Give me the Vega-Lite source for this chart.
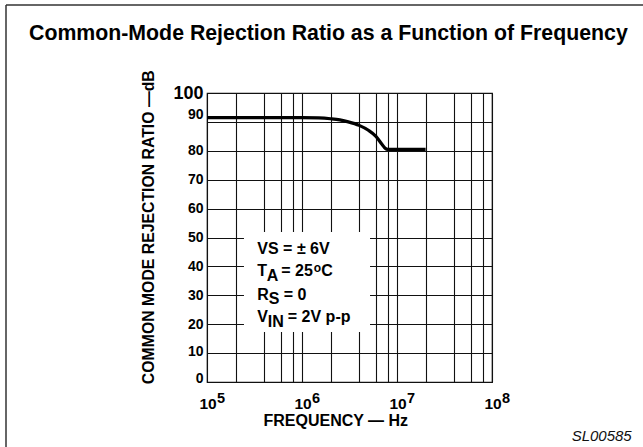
{
  "$schema": "https://vega.github.io/schema/vega-lite/v6.json",
  "width": 285,
  "height": 289,
  "autosize": {"type": "none"},
  "padding": {"left": 207, "top": 93, "right": 151, "bottom": 65},
  "background": "white",
  "config": {
    "view": {"stroke": "#111", "strokeWidth": 1.2},
    "font": "Liberation Sans",
    "axis": {"labelFont": "Liberation Sans", "titleFont": "Liberation Sans"}
  },
  "title": {
    "text": "Common-Mode Rejection Ratio as a Function of Frequency",
    "anchor": "start",
    "frame": "group",
    "dx": -178,
    "offset": -57,
    "baseline": "alphabetic",
    "font": "Liberation Sans",
    "fontSize": 21.3,
    "fontWeight": "bold",
    "color": "#000"
  },
  "datasets": {
    "curve": [
      {"f": 100000, "db": 91.5},
      {"f": 500000, "db": 91.5},
      {"f": 1000000, "db": 91.5},
      {"f": 1500000, "db": 91.4},
      {"f": 2000000, "db": 91.1},
      {"f": 2500000, "db": 90.7},
      {"f": 3000000, "db": 90.1},
      {"f": 4000000, "db": 88.8},
      {"f": 5000000, "db": 87.1},
      {"f": 6000000, "db": 85.0},
      {"f": 7000000, "db": 82.1},
      {"f": 7500000, "db": 80.9},
      {"f": 8000000, "db": 80.5},
      {"f": 10000000, "db": 80.5},
      {"f": 20000000, "db": 80.5}
    ],
    "xticks": [
      {"f": 100000, "base": "10", "exp": "5"},
      {"f": 1000000, "base": "10", "exp": "6"},
      {"f": 10000000, "base": "10", "exp": "7"},
      {"f": 100000000, "base": "10", "exp": "8"}
    ]
  },
  "layer": [
    {
      "data": {"name": "curve"},
      "mark": {"type": "line", "stroke": "#000", "strokeWidth": 3.2, "interpolate": "monotone"},
      "encoding": {
        "x": {
          "field": "f",
          "type": "quantitative",
          "scale": {"type": "log", "domain": [100000, 100000000]},
          "axis": {
            "values": [100000, 200000, 400000, 600000, 800000, 1000000, 2000000, 4000000, 6000000, 8000000, 10000000, 20000000, 40000000, 60000000, 80000000, 100000000],
            "tickCount": 20,
            "grid": true,
            "gridColor": "#111",
            "gridWidth": 1.1,
            "gridOpacity": 1,
            "labels": false,
            "ticks": false,
            "domain": false,
            "title": "FREQUENCY — Hz",
            "titleFontSize": 16,
            "titleFontWeight": "bold",
            "titleColor": "#000",
            "titleX": 128.3,
            "titleY": 43.5,
            "titleAlign": "center",
            "titleBaseline": "alphabetic"
          }
        },
        "y": {
          "field": "db",
          "type": "quantitative",
          "scale": {"domain": [0, 100]},
          "axis": {
            "values": [0, 10, 20, 30, 40, 50, 60, 70, 80, 90, 100],
            "tickCount": 12,
            "grid": true,
            "gridColor": "#111",
            "gridWidth": 1.1,
            "gridOpacity": 1,
            "ticks": false,
            "domain": false,
            "labelOverlap": false,
            "labelPadding": 4,
            "labelColor": "#000",
            "labelFontWeight": "bold",
            "labelFontSize": {"condition": {"test": "datum.value == 100", "value": 18}, "value": 14},
            "labelOffset": {"condition": [{"test": "datum.value == 90", "value": -7}, {"test": "datum.value == 0", "value": -4}, {"test": "datum.value == 10", "value": -2}], "value": 0},
            "title": "COMMON MODE REJECTION RATIO —dB",
            "titleFontSize": 15.8,
            "titleFontWeight": "bold",
            "titleColor": "#000",
            "titleX": -59,
            "titleY": 133.7,
            "titleAlign": "center",
            "titleBaseline": "middle"
          }
        }
      }
    },
    {
      "data": {"values": [{}]},
      "mark": {"type": "rule", "stroke": "#333", "strokeWidth": 1.5},
      "encoding": {
        "x": {"datum": 766, "type": "quantitative"},
        "y": {"datum": 130.45, "type": "quantitative"},
        "y2": {"datum": -30}
      }
    },
    {
      "data": {"values": [{}]},
      "mark": {"type": "rule", "stroke": "#333", "strokeWidth": 1.5},
      "encoding": {
        "x": {"datum": 766, "type": "quantitative"},
        "x2": {"datum": 10000000000},
        "y": {"datum": 130.45, "type": "quantitative"}
      }
    },
    {
      "data": {"values": [{}]},
      "mark": {"type": "rect", "fill": "white", "stroke": null},
      "encoding": {
        "x": {"datum": 245000, "type": "quantitative"},
        "x2": {"datum": 5200000},
        "y": {"datum": 51.9, "type": "quantitative"},
        "y2": {"datum": 17.3}
      }
    },
    {
      "data": {"name": "xticks"},
      "mark": {"type": "text", "align": "center", "baseline": "alphabetic", "dx": 1, "dy": 27, "fontSize": 15.5, "fontWeight": "bold", "color": "#000"},
      "encoding": {
        "x": {"field": "f", "type": "quantitative"},
        "y": {"datum": 0, "type": "quantitative"},
        "text": {"field": "base"}
      }
    },
    {
      "data": {"name": "xticks"},
      "mark": {"type": "text", "align": "left", "baseline": "alphabetic", "dx": 10, "dy": 21, "fontSize": 14.5, "fontWeight": "bold", "color": "#000"},
      "encoding": {
        "x": {"field": "f", "type": "quantitative"},
        "y": {"datum": 0, "type": "quantitative"},
        "text": {"field": "exp"}
      }
    },
    {
      "data": {"values": [{"t": "VS = ± 6V"}]},
      "mark": {"type": "text", "align": "left", "baseline": "alphabetic", "fontSize": 16, "fontWeight": "bold", "color": "#000"},
      "encoding": {"x": {"datum": 338500, "type": "quantitative"}, "y": {"datum": 44.3, "type": "quantitative"}, "text": {"field": "t"}}
    },
    {
      "data": {"values": [{"t": "T"}]},
      "mark": {"type": "text", "align": "left", "baseline": "alphabetic", "fontSize": 16, "fontWeight": "bold", "color": "#000"},
      "encoding": {"x": {"datum": 338500, "type": "quantitative"}, "y": {"datum": 36.57, "type": "quantitative"}, "text": {"field": "t"}}
    },
    {
      "data": {"values": [{"t": "A"}]},
      "mark": {"type": "text", "align": "left", "baseline": "alphabetic", "dx": 9.5, "dy": 5, "fontSize": 16, "fontWeight": "bold", "color": "#000"},
      "encoding": {"x": {"datum": 338500, "type": "quantitative"}, "y": {"datum": 36.57, "type": "quantitative"}, "text": {"field": "t"}}
    },
    {
      "data": {"values": [{"t": "= 25"}]},
      "mark": {"type": "text", "align": "left", "baseline": "alphabetic", "dx": 24, "fontSize": 16, "fontWeight": "bold", "color": "#000"},
      "encoding": {"x": {"datum": 338500, "type": "quantitative"}, "y": {"datum": 36.57, "type": "quantitative"}, "text": {"field": "t"}}
    },
    {
      "data": {"values": [{"t": "o"}]},
      "mark": {"type": "text", "align": "left", "baseline": "alphabetic", "dx": 56.5, "dy": -4.5, "fontSize": 12, "fontWeight": "bold", "color": "#000"},
      "encoding": {"x": {"datum": 338500, "type": "quantitative"}, "y": {"datum": 36.57, "type": "quantitative"}, "text": {"field": "t"}}
    },
    {
      "data": {"values": [{"t": "C"}]},
      "mark": {"type": "text", "align": "left", "baseline": "alphabetic", "dx": 64, "fontSize": 16, "fontWeight": "bold", "color": "#000"},
      "encoding": {"x": {"datum": 338500, "type": "quantitative"}, "y": {"datum": 36.57, "type": "quantitative"}, "text": {"field": "t"}}
    },
    {
      "data": {"values": [{"t": "R"}]},
      "mark": {"type": "text", "align": "left", "baseline": "alphabetic", "fontSize": 16, "fontWeight": "bold", "color": "#000"},
      "encoding": {"x": {"datum": 338500, "type": "quantitative"}, "y": {"datum": 28.48, "type": "quantitative"}, "text": {"field": "t"}}
    },
    {
      "data": {"values": [{"t": "S"}]},
      "mark": {"type": "text", "align": "left", "baseline": "alphabetic", "dx": 11.5, "dy": 4, "fontSize": 16, "fontWeight": "bold", "color": "#000"},
      "encoding": {"x": {"datum": 338500, "type": "quantitative"}, "y": {"datum": 28.48, "type": "quantitative"}, "text": {"field": "t"}}
    },
    {
      "data": {"values": [{"t": "= 0"}]},
      "mark": {"type": "text", "align": "left", "baseline": "alphabetic", "dx": 26.5, "fontSize": 16, "fontWeight": "bold", "color": "#000"},
      "encoding": {"x": {"datum": 338500, "type": "quantitative"}, "y": {"datum": 28.48, "type": "quantitative"}, "text": {"field": "t"}}
    },
    {
      "data": {"values": [{"t": "V"}]},
      "mark": {"type": "text", "align": "left", "baseline": "alphabetic", "fontSize": 16, "fontWeight": "bold", "color": "#000"},
      "encoding": {"x": {"datum": 338500, "type": "quantitative"}, "y": {"datum": 20.76, "type": "quantitative"}, "text": {"field": "t"}}
    },
    {
      "data": {"values": [{"t": "IN"}]},
      "mark": {"type": "text", "align": "left", "baseline": "alphabetic", "dx": 10.5, "dy": 4.5, "fontSize": 16, "fontWeight": "bold", "color": "#000"},
      "encoding": {"x": {"datum": 338500, "type": "quantitative"}, "y": {"datum": 20.76, "type": "quantitative"}, "text": {"field": "t"}}
    },
    {
      "data": {"values": [{"t": "= 2V p-p"}]},
      "mark": {"type": "text", "align": "left", "baseline": "alphabetic", "dx": 30.5, "fontSize": 16, "fontWeight": "bold", "color": "#000"},
      "encoding": {"x": {"datum": 338500, "type": "quantitative"}, "y": {"datum": 20.76, "type": "quantitative"}, "text": {"field": "t"}}
    },
    {
      "data": {"values": [{"t": "SL00585"}]},
      "mark": {"type": "text", "align": "right", "baseline": "alphabetic", "fontSize": 15, "fontStyle": "italic", "color": "#111"},
      "encoding": {"x": {"datum": 2954000000, "type": "quantitative"}, "y": {"datum": -20.4, "type": "quantitative"}, "text": {"field": "t"}}
    }
  ]
}
